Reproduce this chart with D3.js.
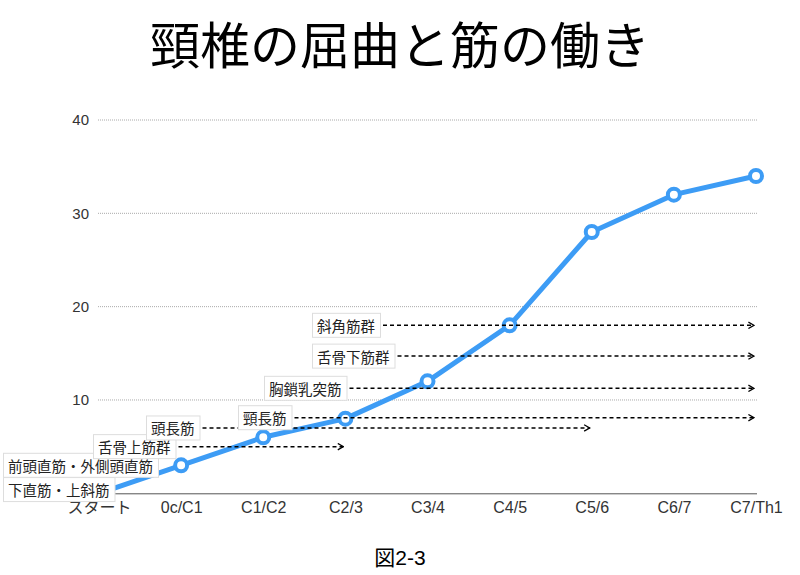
<!DOCTYPE html>
<html><head><meta charset="utf-8">
<script src="https://cdn.jsdelivr.net/npm/d3@7"></script>
<style>
body{margin:0;background:#fff;}
svg{display:block;}
</style></head>
<body>
<svg id="chart" width="800" height="575"></svg>
<script>
const categories = ["スタート","0c/C1","C1/C2","C2/3","C3/4","C4/5","C5/6","C6/7","C7/Th1"];
const values = [0,3,6,8,12,18,28,32,34];
const yTicks = [10,20,30,40];
const muscles = ["下直筋・上斜筋","前頭直筋・外側頭直筋","舌骨上筋群","頭長筋","頸長筋","胸鎖乳突筋","舌骨下筋群","斜角筋群"];
const muscleLevels = [0.4,3,5,7,8.1,11.25,14.7,18];
const arrowEnds = [null,null,"C2/3","C5/6","C7/Th1","C7/Th1","C7/Th1","C7/Th1"];
const labelLeft = [3,3,93,146,238,264,312,312];

const svg = d3.select("#chart");
const latin = "'Liberation Sans', Arial, 'Noto Sans CJK JP', sans-serif";
const cjk = "'Noto Sans CJK JP', sans-serif";

const x = d3.scalePoint().domain(categories).range([99, 756]);
const y = d3.scaleLinear().domain([0,40]).range([493.3,120]);

// title
svg.append("text").attr("x",400).attr("y",42).attr("text-anchor","middle")
  .attr("dominant-baseline","central").style("font-family",cjk).style("font-size","50px")
  .attr("fill","#000").text("頸椎の屈曲と筋の働き");

// grid
const grid = svg.append("g");
grid.selectAll("line").data(yTicks).join("line")
  .attr("x1",98).attr("x2",757).attr("y1",d=>y(d)).attr("y2",d=>y(d))
  .attr("stroke","#aaa").attr("stroke-width",1).attr("stroke-dasharray","1,1");

// y axis labels
const yAxis = d3.axisLeft(y).tickValues(yTicks).tickSize(0).tickPadding(10);
const yg = svg.append("g").attr("transform","translate(99,0)").call(yAxis);
yg.select(".domain").remove();
yg.selectAll("text").style("font-family",latin).style("font-size","15px").attr("fill","#333");

// x axis
const xAxis = d3.axisBottom(x).tickSize(0).tickPadding(8);
const xg = svg.append("g").attr("transform",`translate(0,${y(0)})`).call(xAxis);
xg.select(".domain").attr("stroke","#555").attr("stroke-width",1).attr("d","M98,0.5H757");
xg.selectAll("text").style("font-family",latin).style("font-size","16px").attr("fill","#333");

// line
const line = d3.line().x((d,i)=>x(categories[i])).y(d=>y(d));
svg.append("path").datum(values).attr("d",line).attr("fill","none")
  .attr("stroke","#3d9cf5").attr("stroke-width",5).attr("stroke-linejoin","round");
svg.append("g").selectAll("circle").data(values).join("circle")
  .attr("cx",(d,i)=>x(categories[i])).attr("cy",d=>y(d)).attr("r",6)
  .attr("fill","#fff").attr("stroke","#3d9cf5").attr("stroke-width",4);

// arrowhead
svg.append("defs").append("marker").attr("id","arr").attr("viewBox","0 0 10 10")
  .attr("refX",9).attr("refY",5).attr("markerWidth",8).attr("markerHeight",8)
  .attr("markerUnits","userSpaceOnUse").attr("orient","auto")
  .append("path").attr("d","M2,1L9,5L2,9").attr("fill","none").attr("stroke","#000").attr("stroke-width",1.6);

// labels
const lg = svg.append("g");
muscles.forEach((m,i)=>{
  const cy = y(muscleLevels[i]);
  const g = lg.append("g");
  const rect = g.append("rect");
  const t = g.append("text").attr("x",labelLeft[i]+5).attr("y",cy).attr("dominant-baseline","central")
    .style("font-family",cjk).style("font-size","14.5px").attr("fill","#222").text(m);
  const w = t.node().getComputedTextLength()+10;
  rect.attr("x",labelLeft[i]+0.5).attr("y",cy-12).attr("width",w).attr("height",24)
    .attr("fill","#fff").attr("stroke","#ddd").attr("stroke-width",1);
  if(arrowEnds[i]){
    lg.insert("line",":first-child").attr("x1",labelLeft[i]+w+3).attr("x2",x(arrowEnds[i])-2)
      .attr("y1",cy).attr("y2",cy).attr("stroke","#000").attr("stroke-width",1.5)
      .attr("stroke-dasharray","4,3").attr("marker-end","url(#arr)");
  }
});

// caption
svg.append("text").attr("x",400).attr("y",557).attr("text-anchor","middle")
  .attr("dominant-baseline","central").style("font-family",latin).style("font-size","21px")
  .attr("fill","#000").text("図2-3");
</script>
</body></html>
